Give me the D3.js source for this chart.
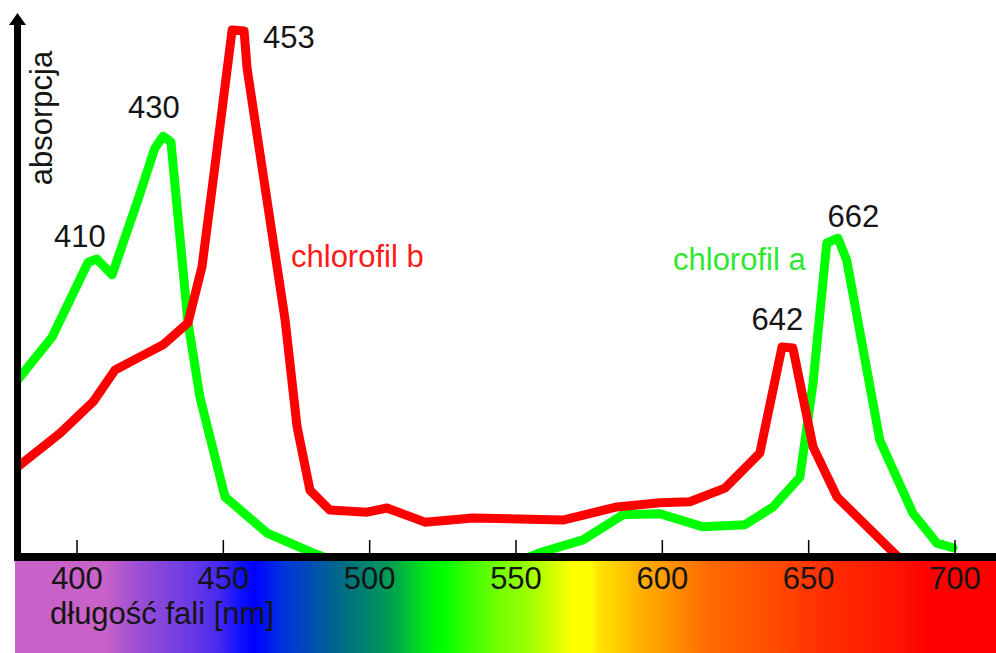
<!DOCTYPE html>
<html>
<head>
<meta charset="utf-8">
<script src="https://cdn.jsdelivr.net/npm/d3@7"></script>
<style>
html,body{margin:0;padding:0;background:#fff;}
svg{display:block;}
text{font-family:"Liberation Sans", Arial, Helvetica, sans-serif;}
</style>
</head>
<body>
<svg id="chart" width="996" height="653"></svg>
<script>
// ---- data ----
const tickValues = [400, 450, 500, 550, 600, 650, 700];
const xLabel = "długość fali [nm]";
const yLabel = "absorpcja";

// chlorofil a (green)
const chlAWavelength = [378, 391.5, 403.8, 406.8, 412, 420.8, 426.6, 429.4, 432.1, 437.9, 442, 450.6, 465, 480.6, 500, 540, 558.9, 572.9, 586.5, 599.2, 613.9, 628.2, 637.8, 647, 651.5, 656.2, 660, 663, 674.3, 685.6, 693.8, 699.3];
const chlAValue      = [31.9, 41.3, 55.6, 56.2, 53.2, 67.5, 77.4, 79.7, 78.6, 44.2, 29.8, 10.7, 3.8, 0, -4, -4, 0.2, 2.5, 7.3, 7.5, 5.0, 5.4, 8.8, 14.5, 32.5, 59.3, 60.2, 56.0, 21.6, 7.6, 1.9, 1.0];

// chlorofil b (red)
const chlBWavelength = [378, 394.2, 405.5, 413, 421.5, 429.4, 437.9, 442.7, 447.1, 453, 457.1, 458.1, 471.1, 475.2, 479.6, 486.4, 499.1, 505.9, 518.9, 535.3, 566, 584.5, 599.2, 609.4, 621.4, 633.3, 640.9, 644.6, 651.5, 659.7, 678.8, 685];
const chlBValue      = [15.7, 22.9, 28.9, 35.0, 37.5, 39.8, 44.0, 54.7, 73.8, 100, 99.8, 92.7, 44.6, 24.1, 12.0, 8.2, 7.8, 8.6, 5.9, 6.7, 6.3, 8.8, 9.6, 9.8, 12.4, 19.1, 39.4, 39.2, 20.3, 10.7, 0.2, -3];

// peak annotations
const peakLabels = ["410", "430", "453", "642", "662"];
const peakWavelength = [401, 426.3, 472.4, 639.3, 665.3];
const peakValue = [58.5, 83.2, 96.6, 42.6, 62.3];

// series names
const seriesNames = ["chlorofil a", "chlorofil b"];

// visible-spectrum colour stops (wavelength, colour)
const spectrumNm = [378.8, 409.6, 418.1, 428.4, 440.3, 448.9, 455.7, 460.8, 469.4, 480.6, 489.9, 497.7, 503.5, 509.3, 513.8, 520.6, 525, 531.9, 543.5, 554.8, 562.6, 569.5, 575.3, 578.7, 585.5, 592.3, 601.6, 609.4, 617.3, 626.5, 637.8, 649.4, 660.7, 670.9, 682.9, 691.4, 714];
const spectrumColor = ["#c862c8", "#c862c8", "#a652d2", "#8646dc", "#6538e6", "#4428f0", "#1010ff", "#0000ff", "#0030e0", "#0050b0", "#006a88", "#008070", "#009060", "#00a848", "#00c830", "#00f010", "#00ff00", "#30ff00", "#70ff00", "#a0ff00", "#d0ff00", "#ffff00", "#ffff00", "#ffe000", "#ffcc00", "#ffb000", "#ff9800", "#ff7c00", "#ff6800", "#ff5c00", "#ff4c00", "#ff3800", "#ff2800", "#ff2000", "#ff1000", "#ff0000", "#ff0000"];

// ---- layout ----
const W = 996, H = 653;
const axisY = 557, axisX = 17.5;
const x = d3.scaleLinear().domain([400, 700]).range([77, 955]);
const y = d3.scaleLinear().domain([0, 100]).range([553, 30]);

const svg = d3.select("#chart");
const defs = svg.append("defs");

// spectrum gradient
const grad = defs.append("linearGradient")
  .attr("id", "spec").attr("gradientUnits", "userSpaceOnUse")
  .attr("x1", 15).attr("x2", W).attr("y1", 0).attr("y2", 0);
spectrumNm.forEach((nm, i) => {
  grad.append("stop")
    .attr("offset", Math.max(0, Math.min(1, (x(nm) - 15) / (W - 15))))
    .attr("stop-color", spectrumColor[i]);
});

defs.append("clipPath").attr("id", "plotclip")
  .append("rect").attr("x", 20).attr("y", 0).attr("width", W).attr("height", axisY);

// spectrum band
svg.append("rect").attr("x", 15).attr("y", 560).attr("width", W - 15).attr("height", H - 560)
  .attr("fill", "url(#spec)");

// tick labels
svg.append("g").selectAll("text").data(tickValues).join("text")
  .attr("x", d => x(d)).attr("y", 589)
  .attr("text-anchor", "middle")
  .attr("font-size", 31).attr("fill", "#151515")
  .text(d => d);

svg.append("text").attr("x", 50).attr("y", 624)
  .attr("font-size", 31).attr("fill", "#151515")
  .text(xLabel);

// curves
const line = d3.line().x(d => x(d[0])).y(d => y(d[1]));
const gLines = svg.append("g").attr("clip-path", "url(#plotclip)");
gLines.append("path")
  .datum(chlAWavelength.map((w, i) => [w, chlAValue[i]]))
  .attr("d", line).attr("fill", "none")
  .attr("stroke", "#00ff00").attr("stroke-width", 9)
  .attr("stroke-linejoin", "round").attr("stroke-linecap", "round");
gLines.append("path")
  .datum(chlBWavelength.map((w, i) => [w, chlBValue[i]]))
  .attr("d", line).attr("fill", "none")
  .attr("stroke", "#ff0000").attr("stroke-width", 9)
  .attr("stroke-linejoin", "round").attr("stroke-linecap", "round");

// ticks
svg.append("g").selectAll("line").data(tickValues).join("line")
  .attr("x1", d => x(d)).attr("x2", d => x(d))
  .attr("y1", 540).attr("y2", 554)
  .attr("stroke", "#000").attr("stroke-width", 1.5);

// axes
svg.append("rect").attr("x", 14).attr("y", 553).attr("width", W - 14).attr("height", 8).attr("fill", "#000");
svg.append("line").attr("x1", axisX).attr("x2", axisX).attr("y1", 561).attr("y2", 22)
  .attr("stroke", "#000").attr("stroke-width", 7);
svg.append("path").attr("d", `M${axisX},13 L${axisX + 8.5},25 L${axisX - 8.5},25 Z`).attr("fill", "#000");

// y label
svg.append("text")
  .attr("transform", `translate(52,118) rotate(-90)`)
  .attr("text-anchor", "middle")
  .attr("font-size", 31).attr("fill", "#151515")
  .text(yLabel);

// peak labels
svg.append("g").selectAll("text").data(peakLabels).join("text")
  .attr("x", (d, i) => x(peakWavelength[i]))
  .attr("y", (d, i) => y(peakValue[i]))
  .attr("text-anchor", "middle")
  .attr("font-size", 31).attr("fill", "#151515")
  .text(d => d);

// series labels
svg.append("text").attr("x", 673).attr("y", 270)
  .attr("font-size", 31).attr("fill", "#2ee82e").text(seriesNames[0]);
svg.append("text").attr("x", 291).attr("y", 267)
  .attr("font-size", 31).attr("fill", "#ff1a1a").text(seriesNames[1]);
</script>
</body>
</html>
